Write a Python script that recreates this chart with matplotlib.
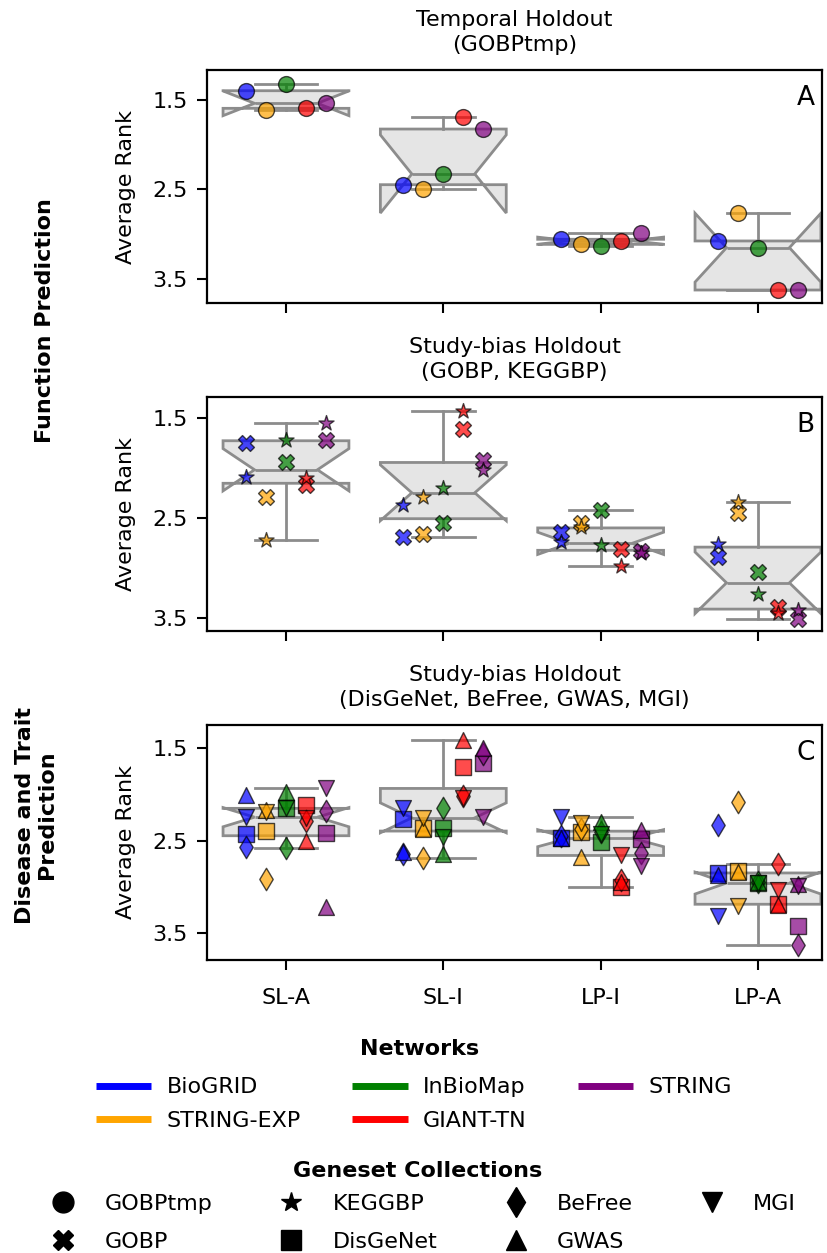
import matplotlib
matplotlib.use("Agg")
import matplotlib.pyplot as plt
from matplotlib.lines import Line2D
import numpy as np

# ---- data -------------------------------------------------------------
methods = ["SL-A", "SL-I", "LP-I", "LP-A"]
networks = ["BioGRID", "STRING-EXP", "InBioMap", "GIANT-TN", "STRING"]
network_colors = ["blue", "orange", "green", "red", "purple"]

# average rank per method (rows) and network (columns, order as `networks`)
gobptmp_rank = [
    [1.396, 1.612, 1.320, 1.593, 1.537],
    [2.448, 2.493, 2.328, 1.687, 1.825],
    [3.059, 3.116, 3.134, 3.075, 2.993],
    [3.078, 2.769, 3.153, 3.627, 3.627],
]
gobp_rank = [
    [1.755, 2.288, 1.945, 2.171, 1.722],
    [2.686, 2.660, 2.553, 1.613, 1.922],
    [2.636, 2.553, 2.420, 2.812, 2.826],
    [2.886, 2.454, 3.035, 3.384, 3.510],
]
keggbp_rank = [
    [2.094, 2.720, 1.722, 2.104, 1.556],
    [2.370, 2.294, 2.204, 1.430, 2.021],
    [2.736, 2.587, 2.770, 2.978, 2.852],
    [2.759, 2.337, 3.258, 3.444, 3.417],
]
disgenet_rank = [
    [2.427, 2.394, 2.149, 2.113, 2.419],
    [2.264, 2.365, 2.365, 1.699, 1.662],
    [2.473, 2.400, 2.510, 3.003, 2.484],
    [2.852, 2.823, 2.953, 3.183, 3.421],
]
befree_rank = [
    [2.564, 2.917, 2.575, 2.283, 2.178],
    [2.646, 2.682, 2.142, 2.012, 1.565],
    [2.448, 2.370, 2.400, 2.924, 2.635],
    [2.329, 2.077, 2.950, 2.751, 3.626],
]
gwas_rank = [
    [2.005, 2.165, 1.972, 2.499, 3.212],
    [2.620, 2.374, 2.646, 1.410, 1.494],
    [2.470, 2.672, 2.300, 2.942, 2.383],
    [2.870, 2.834, 2.940, 3.194, 2.970],
]
mgi_rank = [
    [2.239, 2.190, 2.149, 2.250, 1.932],
    [2.149, 2.257, 2.456, 2.034, 2.246],
    [2.246, 2.310, 2.430, 2.654, 2.772],
    [3.313, 3.205, 2.960, 3.032, 2.990],
]

collections = ["GOBPtmp", "GOBP", "KEGGBP", "DisGeNet", "BeFree", "GWAS", "MGI"]
collection_markers = ["o", "X", "*", "s", "d", "^", "v"]

panels = [
    ("Temporal Holdout\n(GOBPtmp)", "A", [("GOBPtmp", gobptmp_rank)]),
    ("Study-bias Holdout\n(GOBP, KEGGBP)", "B",
     [("GOBP", gobp_rank), ("KEGGBP", keggbp_rank)]),
    ("Study-bias Holdout\n(DisGeNet, BeFree, GWAS, MGI)", "C",
     [("DisGeNet", disgenet_rank), ("BeFree", befree_rank),
      ("GWAS", gwas_rank), ("MGI", mgi_rank)]),
]
y_limits = [(1.164, 3.778), (1.294, 3.627), (1.248, 3.783)]

# ---- figure -----------------------------------------------------------
plt.rcParams["font.family"] = "DejaVu Sans"
plt.rcParams["font.size"] = 16

W, H = 828, 1253
fig = plt.figure(figsize=(W / 100, H / 100), dpi=100)

axes_px = [(70, 303.5), (397, 631), (725, 959.5)]
left_px, right_px = 207, 822

box_edge = "#8c8c8c"
box_face = "#e5e5e5"
marker_of = dict(zip(collections, collection_markers))
offsets = (np.arange(len(networks)) - 2) * 0.127
positions = np.arange(len(methods))

for p, ((title, letter, series), (top, bot), ylim) in enumerate(
        zip(panels, axes_px, y_limits)):
    ax = fig.add_axes([left_px / W, 1 - bot / H,
                       (right_px - left_px) / W, (bot - top) / H])

    # pool all collections and networks per method for the box
    pooled = [np.concatenate([np.asarray(vals[m]) for _, vals in series])
              for m in range(len(methods))]
    line_kw = dict(color=box_edge, linewidth=2)
    ax.boxplot(pooled, positions=positions, widths=0.8, notch=True,
               patch_artist=True, showfliers=False,
               boxprops=dict(facecolor=box_face, edgecolor=box_edge,
                             linewidth=2),
               whiskerprops=line_kw, capprops=line_kw, medianprops=line_kw,
               zorder=1)

    for name, vals in series:
        arr = np.asarray(vals)
        for n, color in enumerate(network_colors):
            ax.scatter(positions + offsets[n], arr[:, n],
                       marker=marker_of[name], s=130, color=color,
                       alpha=0.7, edgecolors="black", linewidths=1,
                       zorder=3)

    ax.set_xlim(-0.502, 3.407)
    ax.set_ylim(ylim[1], ylim[0])
    ax.set_yticks([1.5, 2.5, 3.5])
    ax.set_yticklabels(["1.5", "2.5", "3.5"])
    ax.set_xticks(positions)
    if p == 2:
        ax.set_xticklabels(methods)
    else:
        ax.set_xticklabels([])
    ax.tick_params(length=7, width=1.5, labelsize=16)
    ax.tick_params(axis="y", pad=7)
    ax.tick_params(axis="x", pad=13.5)
    for sp in ax.spines.values():
        sp.set_linewidth(1.6)
    ax.set_ylabel("Average Rank", fontsize=16, labelpad=12)
    ax.set_title(title, fontsize=16, pad=14, linespacing=1.3)
    ax.text(0.988, 0.935, letter, transform=ax.transAxes, ha="right",
            va="top", fontsize=19)

# row group labels
fig.text(45 / W, 1 - 320.5 / H, "Function Prediction", rotation=90,
         ha="center", va="center", fontsize=16, fontweight="bold")
fig.text(36 / W, 1 - 815 / H, "Disease and Trait\nPrediction", rotation=90,
         ha="center", va="center", fontsize=16, fontweight="bold",
         multialignment="center", linespacing=1.1)

# legends
fig.text(420 / W, 1 - 1049 / H, "Networks", ha="center", va="center",
         fontsize=16, fontweight="bold")
net_handles = [Line2D([], [], color=c, linewidth=5, solid_capstyle="butt")
               for c in network_colors]
fig.legend(net_handles, networks, loc="center",
           bbox_to_anchor=(0.5, 1 - 1104 / H), ncol=3,
           frameon=False, fontsize=16, handlelength=2.5,
           handletextpad=0.7, columnspacing=2.3, labelspacing=0.6)

fig.text(418 / W, 1 - 1171 / H, "Geneset Collections", ha="center",
         va="center", fontsize=16, fontweight="bold")
col_handles = [Line2D([], [], marker=m, color="black", linestyle="",
                      markersize=15) for m in collection_markers]
fig.legend(col_handles, collections, loc="center",
           bbox_to_anchor=(0.509, 1 - 1223 / H), ncol=4,
           frameon=False, fontsize=16, handlelength=1.5,
           handletextpad=1.1, columnspacing=2.8, labelspacing=0.8)

fig.savefig("out.png", dpi=100)
